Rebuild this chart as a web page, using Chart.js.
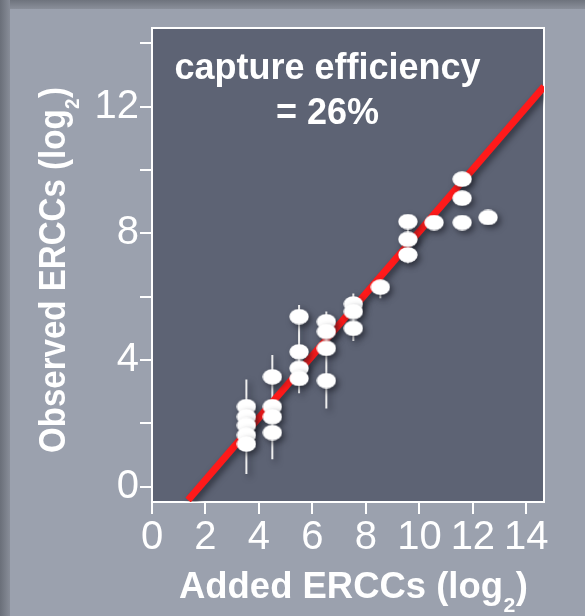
<!DOCTYPE html>
<html>
<head>
<meta charset="utf-8">
<script src="https://cdn.jsdelivr.net/npm/chart.js@4.4.1/dist/chart.umd.min.js"></script>
<style>
  html, body { margin: 0; padding: 0; background: #9ba1ae; overflow: hidden; }
  canvas { display: block; }
</style>
</head>
<body>
<canvas id="ercc" width="585" height="616"></canvas>
<script>
// measured spike-ins, log2 scale
const pointX = [3.53, 3.53, 3.53, 3.53, 3.53, 4.5, 4.5, 4.5, 4.5, 5.5, 5.5, 5.5, 5.5,
                6.52, 6.52, 6.52, 6.52, 7.53, 7.53, 7.53, 8.54, 9.57, 9.57, 9.57,
                10.55, 11.6, 11.6, 11.6, 12.57];
const pointY = [2.53, 2.21, 1.94, 1.63, 1.35, 3.47, 2.53, 2.21, 1.71, 5.37, 4.26, 3.74, 3.42,
                5.21, 4.9, 4.37, 3.35, 5.77, 5.53, 5.0, 6.3, 8.37, 7.81, 7.32,
                8.34, 9.71, 9.11, 8.34, 8.5];

// error bars, one per added concentration
const errX    = [3.53, 4.5, 5.5, 6.52, 7.53, 8.54, 9.57];
const errLow  = [0.4, 0.87, 2.95, 2.47, 4.6, 5.95, 7.05];
const errHigh = [3.39, 4.16, 5.74, 5.53, 6.1, 6.3, 8.4];

// fit line (26% capture)
const fitX = [1.35, 14.66];
const fitY = [-0.42, 12.63];

const xTicks = [0, 2, 4, 6, 8, 10, 12, 14];
const yTicks = [0, 2, 4, 6, 8, 10, 12, 14];

const noteLines = ['capture efficiency', '= 26%'];
const xTitle = ['Added ERCCs (log', '2', ')'];
const yTitle = ['Observed ERCCs (log', '2', ')'];

const FONT = '"Liberation Sans", Arial, Helvetica, sans-serif';

// white oval marker
const dot = document.createElement('canvas');
dot.width = 20;
dot.height = 16;
(function () {
  const c = dot.getContext('2d');
  c.fillStyle = '#ffffff';
  c.beginPath();
  c.ellipse(10, 8, 9.7, 7.7, 0, 0, Math.PI * 2);
  c.fill();
})();

const errData = [];
for (let i = 0; i < errX.length; i++) {
  errData.push({ x: errX[i], y: errLow[i] });
  errData.push({ x: errX[i], y: errHigh[i] });
  errData.push({ x: errX[i], y: null });
}

function drawTitle(c, parts, size, width) {
  c.font = 'bold ' + size + 'px ' + FONT;
  let w1 = c.measureText(parts[0]).width;
  let w3 = c.measureText(parts[2]).width;
  c.font = 'bold ' + Math.round(size * 0.58) + 'px ' + FONT;
  let w2 = c.measureText(parts[1]).width;
  const squeeze = width / (w1 + w2 + w3 + 1);
  c.scale(squeeze, 1);
  c.textAlign = 'left';
  c.textBaseline = 'alphabetic';
  c.font = 'bold ' + size + 'px ' + FONT;
  c.fillText(parts[0], 0, 0);
  c.fillText(parts[2], w1 + w2 + 1, 0);
  c.font = 'bold ' + Math.round(size * 0.58) + 'px ' + FONT;
  c.fillText(parts[1], w1 + 0.5, size * 0.39);
}

const backdrop = {
  id: 'backdrop',
  beforeDraw(chart) {
    const c = chart.ctx, a = chart.chartArea;
    c.save();
    let g = c.createLinearGradient(0, 0, 10, 0);
    g.addColorStop(0, '#6a6f79');
    g.addColorStop(1, '#888d98');
    c.fillStyle = g;
    c.fillRect(0, 0, 10, 616);
    g = c.createLinearGradient(0, 0, 0, 9);
    g.addColorStop(0, '#6e737d');
    g.addColorStop(1, '#8a8f9a');
    c.fillStyle = g;
    c.fillRect(10, 0, 575, 9);
    c.fillStyle = '#9ba1ae';
    c.fillRect(10, 9, 575, 607);
    c.fillStyle = '#5d6374';
    c.fillRect(a.left, a.top, a.right - a.left, a.bottom - a.top);
    c.restore();
  },
  beforeDatasetsDraw(chart) {
    const c = chart.ctx, a = chart.chartArea;
    c.save();
    c.strokeStyle = '#ffffff';
    c.lineWidth = 2;
    c.strokeRect(a.left, a.top, a.right - a.left, a.bottom - a.top);
    c.restore();
  },
  afterDraw(chart) {
    const c = chart.ctx;
    c.save();
    c.fillStyle = '#ffffff';
    c.textAlign = 'center';
    c.textBaseline = 'alphabetic';
    c.font = 'bold 36px ' + FONT;
    c.fillText(noteLines[0], 327.5, 79, 310);
    c.fillText(noteLines[1], 327.5, 124);
    c.restore();

    c.save();
    c.fillStyle = '#ffffff';
    c.translate(179, 598);
    drawTitle(c, xTitle, 36, 349);
    c.restore();

    c.save();
    c.fillStyle = '#ffffff';
    c.translate(65, 453);
    c.rotate(-Math.PI / 2);
    drawTitle(c, yTitle, 37, 366);
    c.restore();
  }
};

const shadows = {
  id: 'shadows',
  beforeDatasetDraw(chart) {
    const c = chart.ctx;
    c.save();
    c.shadowColor = 'rgba(20, 22, 30, 0.6)';
    c.shadowBlur = 6;
    c.shadowOffsetX = 3;
    c.shadowOffsetY = 3;
  },
  afterDatasetDraw(chart) {
    chart.ctx.restore();
  }
};

const tickFont = { family: FONT, size: 40, weight: 'normal' };

new Chart(document.getElementById('ercc'), {
  type: 'scatter',
  data: {
    datasets: [{
      label: 'spread',
      data: errData,
      showLine: true,
      spanGaps: false,
      borderColor: '#eeeeee',
      borderWidth: 2,
      pointRadius: 0,
      order: 3
    }, {
      label: 'fit',
      data: fitX.map((x, i) => ({ x: x, y: fitY[i] })),
      showLine: true,
      borderColor: '#ff1a1a',
      borderWidth: 7,
      pointRadius: 0,
      order: 2
    }, {
      label: 'ERCC',
      data: pointX.map((x, i) => ({ x: x, y: pointY[i] })),
      pointStyle: dot,
      pointRadius: 10,
      order: 1
    }]
  },
  options: {
    responsive: false,
    devicePixelRatio: 1,
    animation: false,
    layout: { padding: { top: 28, right: 41, left: 0, bottom: 0 } },
    plugins: {
      legend: { display: false },
      tooltip: { enabled: false }
    },
    scales: {
      x: {
        type: 'linear',
        min: 0,
        max: 14.66,
        afterBuildTicks: s => { s.ticks = xTicks.map(v => ({ value: v })); },
        afterFit: s => { s.height = 114; },
        grid: { drawOnChartArea: false, color: '#ffffff', tickColor: '#ffffff', lineWidth: 2, tickLength: 12 },
        border: { display: false },
        ticks: { color: '#ffffff', font: tickFont, padding: 0, autoSkip: false, maxRotation: 0,
                 callback: v => String(v) }
      },
      y: {
        type: 'linear',
        min: -0.48,
        max: 14.48,
        afterBuildTicks: s => { s.ticks = yTicks.map(v => ({ value: v })); },
        afterFit: s => { s.width = 152; },
        grid: { drawOnChartArea: false, color: '#ffffff', tickColor: '#ffffff', lineWidth: 2, tickLength: 12 },
        border: { display: false },
        ticks: { color: '#ffffff', font: tickFont, padding: 1, autoSkip: false,
                 callback: v => (v % 4 === 0 ? String(v) : '') }
      }
    }
  },
  plugins: [backdrop, shadows]
});
</script>
</body>
</html>
